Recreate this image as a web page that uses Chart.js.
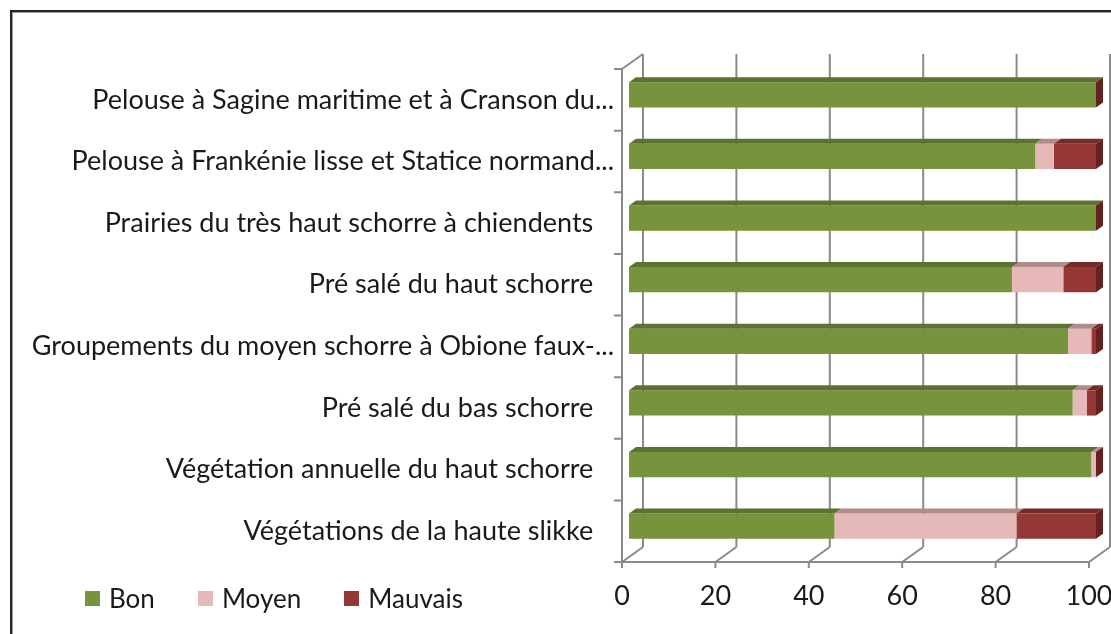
<!DOCTYPE html>
<html lang="fr">
<head>
<meta charset="utf-8">
<title>Etat de conservation</title>
<script src="https://cdn.jsdelivr.net/npm/chart.js@4/dist/chart.umd.min.js"></script>
<style>
html,body{margin:0;padding:0;background:#fff;overflow:hidden;}
#wrap{position:relative;width:1111px;height:634px;}
#chart{position:absolute;left:0;top:0;}
.frame{position:absolute;left:10px;top:10px;width:1120px;height:640px;border:2px solid #262626;box-shadow:inset 1px 1px 0 #9a9a9a;pointer-events:none;}
.legend{position:absolute;left:85px;top:582px;display:flex;align-items:center;font:26px Lato,sans-serif;color:#1a1a1a;}
.legend span.item{display:flex;align-items:center;margin-right:43px;}
.legend i{display:inline-block;width:15px;height:15px;margin-right:9px;}
</style>
</head>
<body>
<div id="wrap">
  <canvas id="chart" width="1111" height="634"></canvas>
  <div class="legend" id="legend"></div>
  <div class="frame"></div>
</div>
<script>
'use strict';
// categories, top to bottom
const categories=[
  'Pelouse à Sagine maritime et à Cranson du...',
  'Pelouse à Frankénie lisse et Statice normand...',
  'Prairies du très haut schorre à chiendents   ',
  'Pré salé du haut schorre   ',
  'Groupements du moyen schorre à Obione faux-...',
  'Pré salé du bas schorre   ',
  'Végétation annuelle du haut schorre   ',
  'Végétations de la haute slikke   '
];
const seriesNames=['Bon','Moyen','Mauvais'];
const bon=[100,87,100,82,94,95,99,44];
const moyen=[0,4,0,11,5,3,1,39];
const mauvais=[0,9,0,7,1,2,0,17];
const xTicks=[0,20,40,60,80,100];

const front=['#77933c','#e6b9b8','#953735'];
const topFace=['#5b7230','#b08b8a','#742a28'];
const sideFace='#632220';
const FONT='Lato, "Open Sans", sans-serif';
const D={dx:7,dy:-5}; // half depth of the 3D bars

const depth3d={
  id:'depth3d',
  beforeDatasetsDraw(chart){
    const {ctx,chartArea:a,scales:{x,y}}=chart;
    ctx.save();
    ctx.strokeStyle='#8a8a8a';ctx.lineWidth=2;
    const bT=a.top+2*D.dy, bB=a.bottom+2*D.dy; // back wall
    const fT=a.top-D.dy, fB=a.bottom-D.dy;     // front plane
    ctx.beginPath();
    xTicks.forEach(v=>{
      const px=x.getPixelForValue(v);
      ctx.moveTo(px+2*D.dx,bT);ctx.lineTo(px+2*D.dx,bB);
      ctx.moveTo(px-D.dx,fB);ctx.lineTo(px+2*D.dx,bB);
      ctx.moveTo(px-D.dx,fB);ctx.lineTo(px-D.dx,fB+6);
    });
    const x0=x.getPixelForValue(0)-D.dx, x1=x.getPixelForValue(100)-D.dx;
    ctx.moveTo(x0,fB);ctx.lineTo(x1,fB);
    ctx.moveTo(x0,fT);ctx.lineTo(x0,fB);
    ctx.moveTo(x0,fT);ctx.lineTo(x0+3*D.dx,fT+3*D.dy);
    const step=(a.bottom-a.top)/categories.length;
    for(let i=0;i<=categories.length;i++){
      const py=fT+i*step;
      ctx.moveTo(x0-8,py);ctx.lineTo(x0,py);
    }
    ctx.stroke();
    ctx.restore();
  },
  afterDatasetsDraw(chart){
    const {ctx}=chart;
    ctx.save();
    const n=chart.data.datasets.length;
    for(let d=0;d<n;d++){
      chart.getDatasetMeta(d).data.forEach(bar=>{
        const {x,y,base,height}=bar.getProps(['x','y','base','height'],true);
        const t=y-height/2;
        if(x-base>0.5){
          ctx.fillStyle=topFace[d];
          ctx.beginPath();
          ctx.moveTo(base,t);ctx.lineTo(x,t);ctx.lineTo(x+D.dx,t+D.dy);ctx.lineTo(base+D.dx,t+D.dy);
          ctx.closePath();ctx.fill();
        }
        if(d===n-1){
          ctx.fillStyle=sideFace;
          ctx.beginPath();
          ctx.moveTo(x,t);ctx.lineTo(x+D.dx,t+D.dy);ctx.lineTo(x+D.dx,t+height+D.dy);ctx.lineTo(x,t+height);
          ctx.closePath();ctx.fill();
        }
      });
    }
    ctx.restore();
  }
};

const datasets=[bon,moyen,mauvais].map((data,i)=>({
  label:seriesNames[i],data,backgroundColor:front[i],borderWidth:0,
  barPercentage:0.41,categoryPercentage:1
}));

new Chart(document.getElementById('chart'),{
  type:'bar',
  data:{labels:categories,datasets},
  options:{
    indexAxis:'y',responsive:false,animation:false,
    layout:{padding:{top:64,right:15,left:0,bottom:0}},
    plugins:{legend:{display:false},tooltip:{enabled:false}},
    scales:{
      x:{stacked:true,min:0,max:100,
        afterBuildTicks:s=>{s.ticks=xTicks.map(v=>({value:v}));},
        afterFit:s=>{s.height=77;s.paddingLeft=0;s.paddingRight=0;},
        grid:{display:false,drawTicks:false},border:{display:false},
        ticks:{font:{family:FONT,size:27},color:'#1a1a1a',padding:23,labelOffset:-7,maxRotation:0}},
      y:{stacked:true,
        afterFit:s=>{s.width=629;s.paddingTop=0;s.paddingBottom=0;},
        grid:{display:false,drawTicks:false},border:{display:false},
        ticks:{font:{family:FONT,size:27},color:'#1a1a1a',padding:15,labelOffset:5,autoSkip:false}}
    }
  },
  plugins:[depth3d]
});

document.getElementById('legend').innerHTML=seriesNames.map((n,i)=>
  '<span class="item"><i style="background:'+front[i]+'"></i>'+n+'</span>').join('');
</script>
</body>
</html>
